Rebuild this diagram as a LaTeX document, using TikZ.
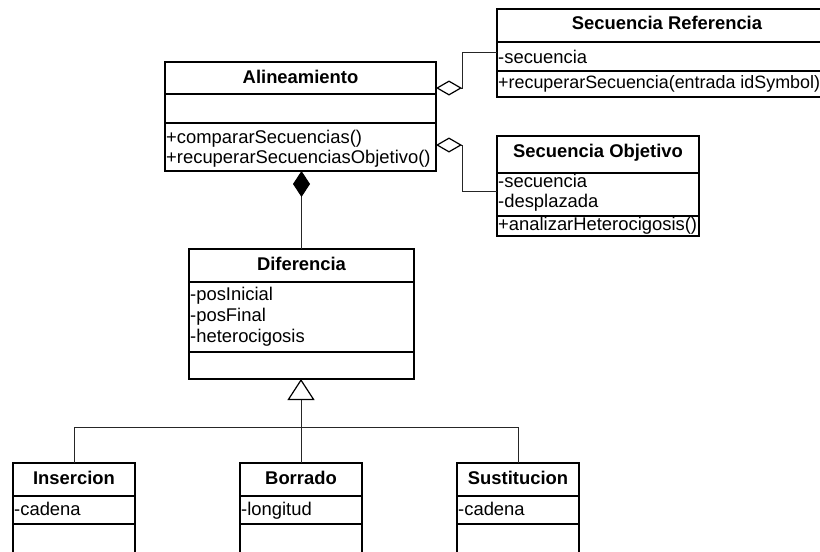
\documentclass[tikz,border=0pt]{standalone}
\usepackage{fontspec}
\setmainfont{Liberation Sans}
\usetikzlibrary{arrows.meta}
\tikzset{
  agg/.tip={Diamond[open, length=26pt, width=15pt, line width=1.2pt, color=black]},
  comp/.tip={Diamond[length=26pt, width=17pt, color=black]},
  gen/.tip={Triangle[open, length=21pt, width=27pt, line width=1.2pt, color=black]},
}
\begin{document}
\begin{tikzpicture}[x=1pt,y=-1pt,
  box/.style={draw=black, line width=1.3pt, rectangle, inner sep=0pt, outer sep=0pt, anchor=north west},
  sep/.style={draw=black, line width=1.3pt},
  conn/.style={draw=black!85, line width=1pt},
  hdr/.style={font=\fontsize{18.4}{22}\selectfont\bfseries, anchor=base, inner sep=0pt},
  item/.style={font=\fontsize{18.4}{22}\selectfont, anchor=base west, inner sep=0pt},
  longitem/.style={item, font=\fontsize{17.9}{22}\selectfont},
]
\useasboundingbox[fill=white] (0,0) rectangle (820,552);

% ---- class boxes ----
\node[box, minimum width=271pt, minimum height=109pt] (ali) at (165,62) {};
\draw[sep] (ali.west |- 0,94) -- (ali.east |- 0,94);
\draw[sep] (ali.west |- 0,123) -- (ali.east |- 0,123);
\node[hdr] (aliT) at (300.5,83) {Alineamiento};
\node[item] (aliM1) at (166,143) {+compararSecuencias()};
\node[item] (aliM2) at (166,163) {+recuperarSecuenciasObjetivo()};

\node[box, minimum width=340pt, minimum height=88pt] (ref) at (497,9) {};
\draw[sep] (ref.west |- 0,42) -- (ref.east |- 0,42);
\draw[sep] (ref.west |- 0,71) -- (ref.east |- 0,71);
\node[hdr] (refT) at (667,29) {Secuencia Referencia};
\node[item] (refA1) at (498,63) {-secuencia};
\node[longitem] (refM1) at (498,88) {+recuperarSecuencia(entrada idSymbol)};

\node[box, minimum width=202pt, minimum height=100pt] (obj) at (497,136) {};
\draw[sep] (obj.west |- 0,173) -- (obj.east |- 0,173);
\draw[sep] (obj.west |- 0,216) -- (obj.east |- 0,216);
\node[hdr] (objT) at (598,157) {Secuencia Objetivo};
\node[item] (objA1) at (498,187) {-secuencia};
\node[item] (objA2) at (498,207) {-desplazada};
\node[item] (objM1) at (498,230) {+analizarHeterocigosis()};

\node[box, minimum width=225pt, minimum height=130pt] (dif) at (189,249) {};
\draw[sep] (dif.west |- 0,282) -- (dif.east |- 0,282);
\draw[sep] (dif.west |- 0,352) -- (dif.east |- 0,352);
\node[hdr] (difT) at (301.5,270) {Diferencia};
\node[item] (difA1) at (190,300) {-posInicial};
\node[item] (difA2) at (190,321) {-posFinal};
\node[item] (difA3) at (190,342) {-heterocigosis};

\node[box, minimum width=122pt, minimum height=94pt] (ins) at (13,463) {};
\draw[sep] (ins.west |- 0,496) -- (ins.east |- 0,496);
\draw[sep] (ins.west |- 0,524) -- (ins.east |- 0,524);
\node[hdr] (insT) at (74,484) {Insercion};
\node[item] (insA1) at (14,515) {-cadena};

\node[box, minimum width=122pt, minimum height=94pt] (bor) at (240,463) {};
\draw[sep] (bor.west |- 0,496) -- (bor.east |- 0,496);
\draw[sep] (bor.west |- 0,524) -- (bor.east |- 0,524);
\node[hdr] (borT) at (301,484) {Borrado};
\node[item] (borA1) at (241,515) {-longitud};

\node[box, minimum width=122pt, minimum height=94pt] (sus) at (457,463) {};
\draw[sep] (sus.west |- 0,496) -- (sus.east |- 0,496);
\draw[sep] (sus.west |- 0,524) -- (sus.east |- 0,524);
\node[hdr] (susT) at (518,484) {Sustitucion};
\node[item] (susA1) at (458,515) {-cadena};

% ---- aggregations ----
\draw[conn, agg-] (ali.east |- 0,88) -- (462,88) -- (462,52) -- (ref.west |- 0,52);
\draw[conn, agg-] (ali.east |- 0,145) -- (462,145) -- (462,191) -- (obj.west |- 0,191);

% ---- composition ----
\draw[conn, -comp] (dif.north) -- (dif.north |- ali.south);

% ---- generalization ----
\draw[conn] (ins.north) -- (ins.north |- 0,427) -- (sus.north |- 0,427) -- (sus.north);
\draw[conn, -gen] (bor.north) -- (bor.north |- dif.south);
\end{tikzpicture}
\end{document}
